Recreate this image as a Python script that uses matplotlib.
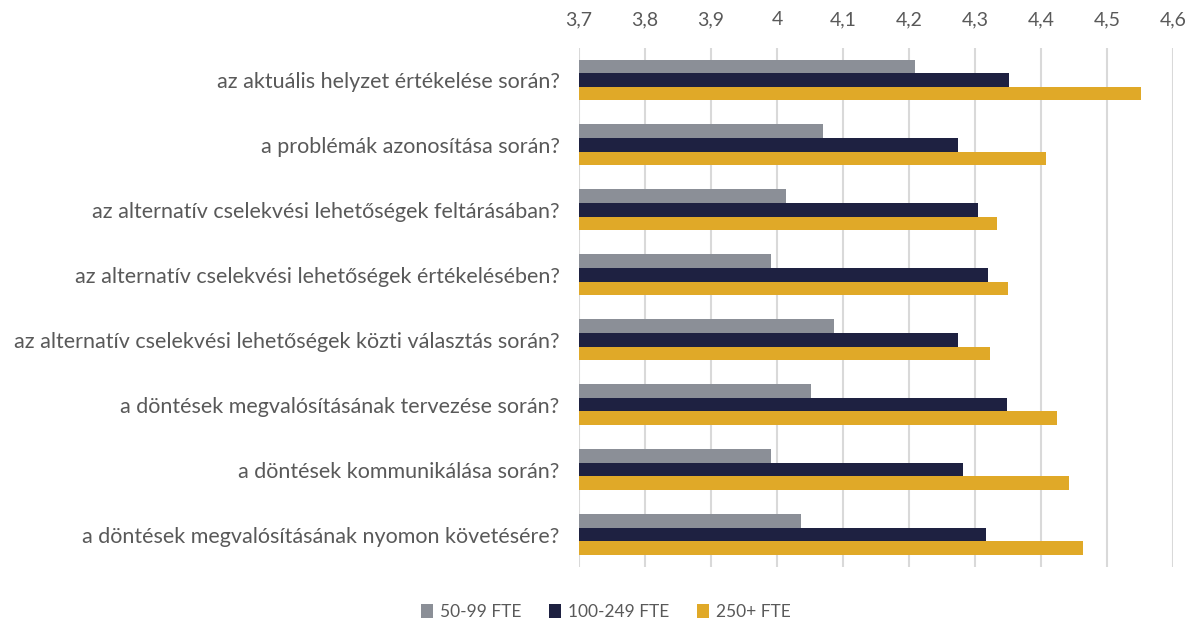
import numpy as np
import matplotlib
matplotlib.use("Agg")
from matplotlib import pyplot as plt
from matplotlib.patches import Patch

plt.rcParams['font.family'] = ['Lato', 'DejaVu Sans']

categories = [
	"az aktuális helyzet értékelése során?",
	"a problémák azonosítása során?",
	"az alternatív cselekvési lehetőségek feltárásában?",
	"az alternatív cselekvési lehetőségek értékelésében?",
	"az alternatív cselekvési lehetőségek közti választás során?",
	"a döntések megvalósításának tervezése során?",
	"a döntések kommunikálása során?",
	"a döntések megvalósításának nyomon követésére?",
]
series_names = ["50-99 FTE", "100-249 FTE", "250+ FTE"]
small = [4.209, 4.069, 4.014, 3.991, 4.087, 4.052, 3.991, 4.036]
medium = [4.351, 4.274, 4.305, 4.320, 4.274, 4.349, 4.282, 4.317]
large = [4.552, 4.407, 4.334, 4.350, 4.323, 4.424, 4.443, 4.463]
x_ticks = [3.7, 3.8, 3.9, 4.0, 4.1, 4.2, 4.3, 4.4, 4.5, 4.6]
x_tick_labels = ["3,7", "3,8", "3,9", "4", "4,1", "4,2", "4,3", "4,4", "4,5", "4,6"]

COLORS = ["#8B8F97", "#1E2141", "#E0A928"]
TEXT = "#595959"
BAR_H = 0.21
BASE = 3.7

fig = plt.figure(figsize=(11.91, 6.23), dpi=100)
ax = fig.add_axes([579 / 1191, 1 - 567 / 623, 594 / 1191, 519.5 / 623])

y = np.arange(len(categories))
for i, (vals, col) in enumerate(zip([small, medium, large], COLORS)):
	v = np.array(vals)
	ax.barh(y + (i - 1) * BAR_H, v - BASE, left=BASE, height=BAR_H, color=col,
		edgecolor='none', zorder=3)

ax.set_xlim(3.7, 4.6)
ax.set_ylim(len(categories) - 0.5, -0.5)
ax.set_xticks(x_ticks)
ax.set_xticklabels(x_tick_labels)
ax.xaxis.tick_top()
ax.tick_params(axis='x', length=0, pad=14, labelsize=14, labelcolor=TEXT)
ax.set_yticks(y)
ax.set_yticklabels(categories)
ax.tick_params(axis='y', length=0, pad=14, labelsize=15.5, labelcolor=TEXT)
ax.grid(axis='x', color='#D9D9D9', linewidth=1.5, zorder=0)
for s in ax.spines.values():
	s.set_visible(False)

handles = [Patch(facecolor=c, edgecolor='none') for c in COLORS]
fig.legend(handles, series_names, loc='center', bbox_to_anchor=(606 / 1191, 1 - 612 / 623),
	ncol=3, frameon=False, fontsize=12.5, labelcolor=TEXT, handlelength=0.7,
	handleheight=0.9, handletextpad=0.4, columnspacing=1.6)

fig.savefig("out.png", dpi=100)
